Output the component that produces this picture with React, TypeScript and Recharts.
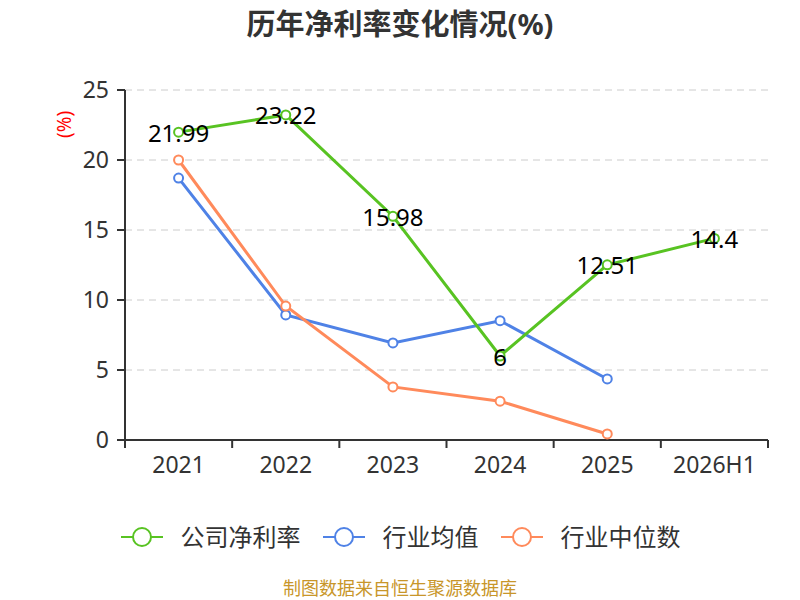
import React from 'react';
import {
  LineChart,
  Line,
  XAxis,
  YAxis,
  CartesianGrid,
  LabelList,
} from 'recharts';

const years = ['2021', '2022', '2023', '2024', '2025', '2026H1'];
const companyRate = [21.99, 23.22, 15.98, 6, 12.51, 14.4];
const industryAvg = [18.71, 8.93, 6.93, 8.52, 4.36, null];
const industryMedian = [20.0, 9.57, 3.79, 2.77, 0.43, null];
const yTicks = [0, 5, 10, 15, 20, 25];

const seriesNames = ['公司净利率', '行业均值', '行业中位数'];
const colors = ['#58c322', '#4f82e6', '#ff8a5b'];

const data = years.map((y, i) => ({
  year: y,
  company: companyRate[i],
  avg: industryAvg[i],
  median: industryMedian[i],
}));

const W = 800;
const H = 600;
const PLOT_LEFT = 125;
const PLOT_RIGHT = 768;
const PLOT_BOTTOM = 440;
const band = (PLOT_RIGHT - PLOT_LEFT) / years.length;
const FONT = '"Noto Sans", "Noto Sans CJK SC", sans-serif';

function XTick(props: any) {
  const { x, y, payload, index } = props;
  const left = x - band / 2;
  return (
    <g>
      <line x1={left} y1={y} x2={left} y2={y + 8} stroke="#333" strokeWidth={2} />
      {index === years.length - 1 && (
        <line x1={left + band} y1={y} x2={left + band} y2={y + 8} stroke="#333" strokeWidth={2} />
      )}
      <text x={x} y={y + 33} textAnchor="middle" fill="#333" fontSize={23} fontFamily={FONT}>
        {payload.value}
      </text>
    </g>
  );
}

function ValueLabel(props: any) {
  const { x, y, value } = props;
  return (
    <text x={x} y={y} textAnchor="middle" dominantBaseline="central" fill="#000" fontSize={24} fontFamily={FONT}>
      {value}
    </text>
  );
}

function LegendRow() {
  return (
    <div
      style={{
        position: 'absolute',
        top: 522,
        left: 0,
        width: W,
        display: 'flex',
        justifyContent: 'center',
        gap: 21,
        fontFamily: FONT,
      }}
    >
      {seriesNames.map((n, i) => (
        <div key={n} style={{ display: 'flex', alignItems: 'center', height: 30 }}>
          <svg width={44} height={24}>
            <line x1={1} y1={12} x2={43} y2={12} stroke={colors[i]} strokeWidth={2} />
            <circle cx={22} cy={12} r={9} fill="#fff" stroke={colors[i]} strokeWidth={2} />
          </svg>
          <span style={{ fontSize: 24, color: '#333', marginLeft: 17, lineHeight: '30px' }}>{n}</span>
        </div>
      ))}
    </div>
  );
}

export default function App() {
  const dot = (c: string) => ({ r: 4.5, fill: '#fff', stroke: c, strokeWidth: 2 });
  return (
    <div style={{ position: 'absolute', left: 0, top: 0, width: W, height: H, background: '#fff', overflow: 'hidden' }}>
      <div
        style={{
          position: 'absolute',
          top: 4,
          width: W,
          textAlign: 'center',
          fontSize: 29,
          lineHeight: '40px',
          fontWeight: 'bold',
          color: '#333',
          fontFamily: FONT,
        }}
      >
        历年净利率变化情况(%)
      </div>
      <LineChart
        width={W}
        height={H}
        data={data}
        margin={{ top: 90, right: W - PLOT_RIGHT, bottom: H - PLOT_BOTTOM - 30, left: PLOT_LEFT - 60 }}
      >
        <CartesianGrid vertical={false} stroke="#ccc" strokeDasharray="7 5" />
        <XAxis
          dataKey="year"
          height={30}
          padding={{ left: band / 2, right: band / 2 }}
          axisLine={{ stroke: '#333', strokeWidth: 2 }}
          tickLine={false}
          tickSize={0}
          tickMargin={0}
          tick={<XTick />}
          interval={0}
        />
        <YAxis
          width={60}
          domain={[0, 25]}
          ticks={yTicks}
          axisLine={{ stroke: '#333', strokeWidth: 2 }}
          tickLine={{ stroke: '#333', strokeWidth: 2 }}
          tickSize={8}
          tickMargin={8}
          tick={{ fill: '#333', fontSize: 23, fontFamily: FONT }}
          label={{
            value: '(%)',
            angle: -90,
            position: 'insideTopLeft',
            dx: -12,
            dy: 43,
            fill: 'red',
            fontSize: 19,
            fontFamily: FONT,
          }}
        />
        <Line
          dataKey="avg"
          name={seriesNames[1]}
          stroke={colors[1]}
          strokeWidth={3}
          dot={dot(colors[1])}
          isAnimationActive={false}
        />
        <Line
          dataKey="median"
          name={seriesNames[2]}
          stroke={colors[2]}
          strokeWidth={3}
          dot={dot(colors[2])}
          isAnimationActive={false}
        />
        <Line
          dataKey="company"
          name={seriesNames[0]}
          stroke={colors[0]}
          strokeWidth={3}
          dot={dot(colors[0])}
          isAnimationActive={false}
        >
          <LabelList dataKey="company" content={<ValueLabel />} />
        </Line>
      </LineChart>
      <LegendRow />
      <div
        style={{
          position: 'absolute',
          top: 577,
          width: W,
          textAlign: 'center',
          fontSize: 18,
          lineHeight: '22px',
          color: '#c8962a',
          fontFamily: FONT,
        }}
      >
        制图数据来自恒生聚源数据库
      </div>
    </div>
  );
}
